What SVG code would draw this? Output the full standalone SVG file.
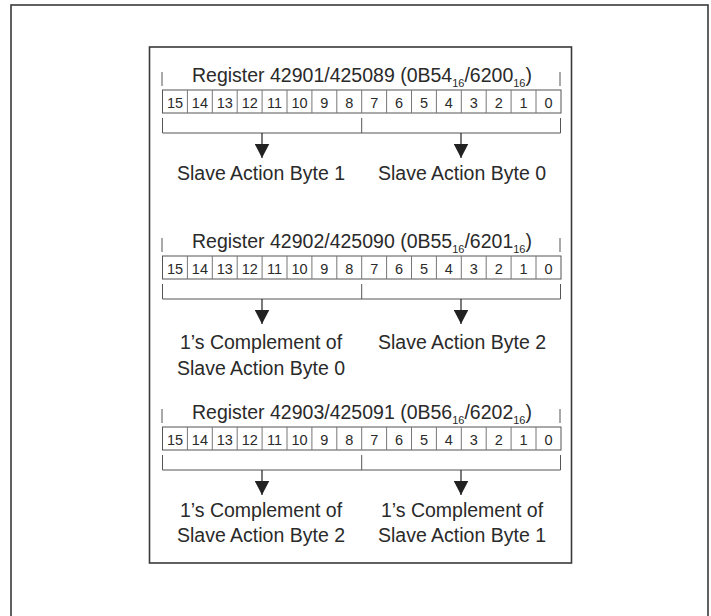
<svg xmlns="http://www.w3.org/2000/svg" xmlns:xlink="http://www.w3.org/1999/xlink" width="711" height="616" viewBox="0 0 711 616">
<style>
text{font-family:"Liberation Sans",Arial,sans-serif;fill:#2a2a2a}
.t{font-size:19.5px;text-anchor:middle}
.n{font-size:14.5px;text-anchor:middle}
.s{font-size:11px}
.frame{fill:none;stroke:#3a3a3a;stroke-width:1.6}
.box{fill:#fff;stroke:#555;stroke-width:1}
.div{stroke:#777;stroke-width:1}
.ln{fill:none;stroke:#555;stroke-width:1}
.arr{stroke:#222;stroke-width:1.2;marker-end:url(#ah)}
</style>
<defs>
<marker id="ah" markerUnits="userSpaceOnUse" markerWidth="15" markerHeight="15" viewBox="0 0 14 14" refX="13.5" refY="7" orient="auto">
<path d="M0,0 L13.5,7 L0,14 Z" fill="#222"/>
</marker>
<g id="bits">
<line class="ln" x1="162" y1="-18" x2="162" y2="-4"/>
<line class="ln" x1="560" y1="-18" x2="560" y2="-4"/>
<rect class="box" x="162.5" y="0" width="398.5" height="23"/>
<path class="div" d="M187.4,0v23M212.3,0v23M237.2,0v23M262.1,0v23M287,0v23M311.9,0v23M336.8,0v23M361.7,0v23M386.6,0v23M411.5,0v23M436.4,0v23M461.3,0v23M486.2,0v23M511.1,0v23M536,0v23"/>
<text class="n" y="18"><tspan x="175">15</tspan><tspan x="199.9">14</tspan><tspan x="224.8">13</tspan><tspan x="249.7">12</tspan><tspan x="274.6">11</tspan><tspan x="299.5">10</tspan><tspan x="324.4">9</tspan><tspan x="349.3">8</tspan><tspan x="374.2">7</tspan><tspan x="399.1">6</tspan><tspan x="424">5</tspan><tspan x="448.9">4</tspan><tspan x="473.8">3</tspan><tspan x="498.7">2</tspan><tspan x="523.6">1</tspan><tspan x="548.5">0</tspan></text>
<path class="ln" d="M162.5,28V43H560.5V28M361.7,28V43"/>
</g>
</defs>
<rect class="frame" x="11" y="5" width="697" height="640"/>
<rect class="frame" x="149.5" y="47" width="422" height="516"/>

<g id="reg1">
<text class="t" x="362" y="82">Register 42901/425089 (0B54<tspan class="s" dy="5">16</tspan><tspan dy="-5">/6200</tspan><tspan class="s" dy="5">16</tspan><tspan dy="-5">)</tspan></text>
<use xlink:href="#bits" y="90"/>
<text class="t" x="261" y="180">Slave Action Byte 1</text>
<text class="t" x="462" y="180">Slave Action Byte 0</text>
</g>

<g id="reg2">
<text class="t" x="362" y="248">Register 42902/425090 (0B55<tspan class="s" dy="5">16</tspan><tspan dy="-5">/6201</tspan><tspan class="s" dy="5">16</tspan><tspan dy="-5">)</tspan></text>
<use xlink:href="#bits" y="256"/>
<text class="t" x="261" y="349">1’s Complement of</text>
<text class="t" x="261" y="375">Slave Action Byte 0</text>
<text class="t" x="462" y="349">Slave Action Byte 2</text>
</g>

<g id="reg3">
<text class="t" x="362" y="419">Register 42903/425091 (0B56<tspan class="s" dy="5">16</tspan><tspan dy="-5">/6202</tspan><tspan class="s" dy="5">16</tspan><tspan dy="-5">)</tspan></text>
<use xlink:href="#bits" y="427"/>
<text class="t" x="261" y="517">1’s Complement of</text>
<text class="t" x="261" y="542">Slave Action Byte 2</text>
<text class="t" x="462" y="517">1’s Complement of</text>
<text class="t" x="462" y="542">Slave Action Byte 1</text>
</g>

<g id="connectors">
<line class="arr" x1="262" y1="133" x2="262" y2="158"/>
<line class="arr" x1="461" y1="133" x2="461" y2="158"/>
<line class="arr" x1="262" y1="299" x2="262" y2="324"/>
<line class="arr" x1="461" y1="299" x2="461" y2="324"/>
<line class="arr" x1="262" y1="470" x2="262" y2="495"/>
<line class="arr" x1="461" y1="470" x2="461" y2="495"/>
</g>
</svg>
